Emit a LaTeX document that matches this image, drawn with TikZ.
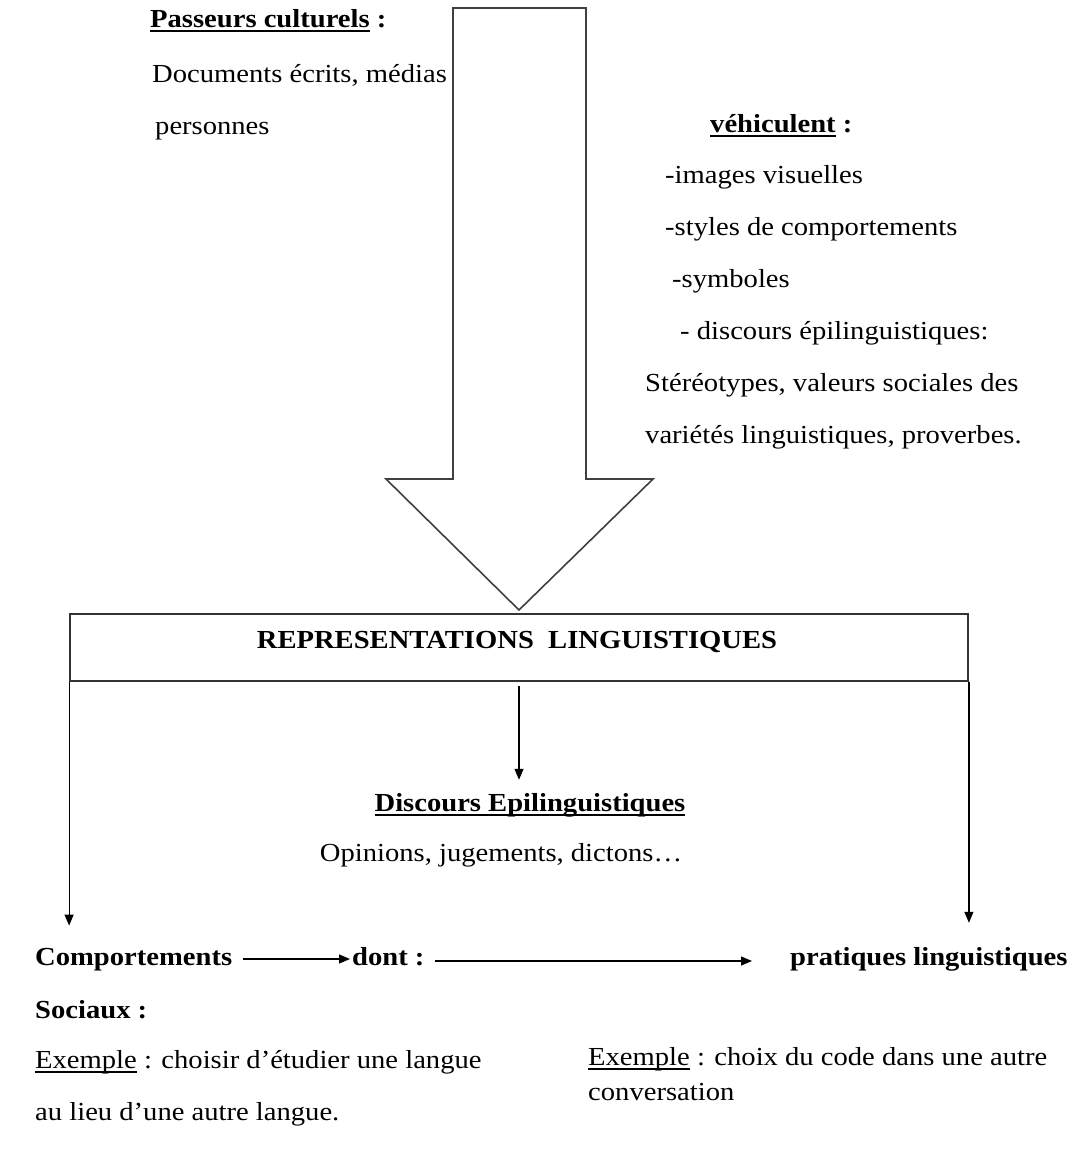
\documentclass[tikz,border=0pt]{standalone}
\usepackage{fontspec}
\setmainfont{Liberation Serif}
\usetikzlibrary{arrows.meta}
\newsavebox\ulbox
\newcommand\myul[2][1.4pt]{\sbox\ulbox{#2}\rlap{\rule[-4.5pt]{\wd\ulbox}{#1}}\usebox\ulbox}
\newcommand\sx[1]{\scalebox{1.1}[1]{#1}}
\begin{document}
\begin{tikzpicture}[x=1pt,y=-1pt,
  txt/.style={inner sep=0pt, anchor=base west, font=\fontsize{26}{30}\selectfont},
  ctxt/.style={txt, anchor=base},
  blockarrow/.style={draw=black!75, line width=1.6pt, line join=miter, fill=white},
  frame/.style={draw=black!80, line width=1.8pt, inner sep=0pt, minimum width=898pt, minimum height=67pt},
  conn/.style={draw=black, line width=1.2pt, -{Triangle[length=11pt,width=9pt]}}]
\useasboundingbox (0,0) rectangle (1071,1162);
\fill[white] (0,0) rectangle (1071,1162);

% big block arrow
\draw[blockarrow] (453,8) -- (586,8) -- (586,479) -- (653,479) -- (519,610) -- (386,479) -- (453,479) -- cycle;

% top left
\node[txt] (pass) at (150,27) {\sx{\bfseries\myul[1.8pt]{Passeurs culturels} :}};
\node[txt] (docs) at (152,82) {\sx{Documents écrits, médias}};
\node[txt] (pers) at (155,134) {\sx{personnes}};

% top right
\node[txt] (vehic) at (710,132) {\sx{\bfseries\myul[1.8pt]{véhiculent} :}};
\node[txt] (img) at (665,183) {\sx{-images visuelles}};
\node[txt] (sty) at (665,235) {\sx{-styles de comportements}};
\node[txt] (sym) at (672,287) {\sx{-symboles}};
\node[txt] (dis1) at (680,339) {\sx{- discours épilinguistiques:}};
\node[txt] (stereo) at (645,391) {\sx{Stéréotypes, valeurs sociales des}};
\node[txt] (var) at (645,443) {\sx{variétés linguistiques, proverbes.}};

% box
\node[frame] (box) at (519,647.5) {};
\node[ctxt] (rep) at (517,648) {\sx{\bfseries REPRESENTATIONS\ \ LINGUISTIQUES}};

% middle
\node[ctxt] (epi) at (530,811) {\sx{\bfseries\myul[1.8pt]{Discours Epilinguistiques}}};
\node[ctxt] (opi) at (501,861) {\sx{Opinions, jugements, dictons\ldots}};

% bottom row
\node[txt] (comp) at (35,965) {\sx{\bfseries Comportements}};
\node[txt] (dont) at (352,965) {\sx{\bfseries dont :}};
\node[txt] (prat) at (790,965) {\sx{\bfseries pratiques linguistiques}};
\node[txt] (soc) at (35,1018) {\sx{\bfseries Sociaux :}};
\node[txt] (ex1) at (35,1068) {\sx{\myul[1.2pt]{Exemple} : choisir d’étudier une langue}};
\node[txt] (lieu) at (35,1120) {\sx{au lieu d’une autre langue.}};
\node[txt] (ex2) at (588,1065) {\sx{\myul[1.2pt]{Exemple} : choix du code dans une autre}};
\node[txt] (conv) at (588,1100) {\sx{conversation}};

% connectors
\draw[conn] (box.south west) -- ([yshift=22pt]box.south west |- comp.north);
\draw[conn] (box.south east) -- ([yshift=24pt]box.south east |- prat.north);
\draw[conn] ([yshift=-4pt]box.south) -- ([yshift=13pt]box.south |- epi.north);
\draw[conn] ([xshift=11pt,yshift=6pt]comp.base east) -- ([xshift=-2pt,yshift=6pt]dont.base west);
\draw[conn] ([xshift=10pt,yshift=4pt]dont.base east) -- ([xshift=-38pt,yshift=4pt]prat.base west);
\end{tikzpicture}
\end{document}
